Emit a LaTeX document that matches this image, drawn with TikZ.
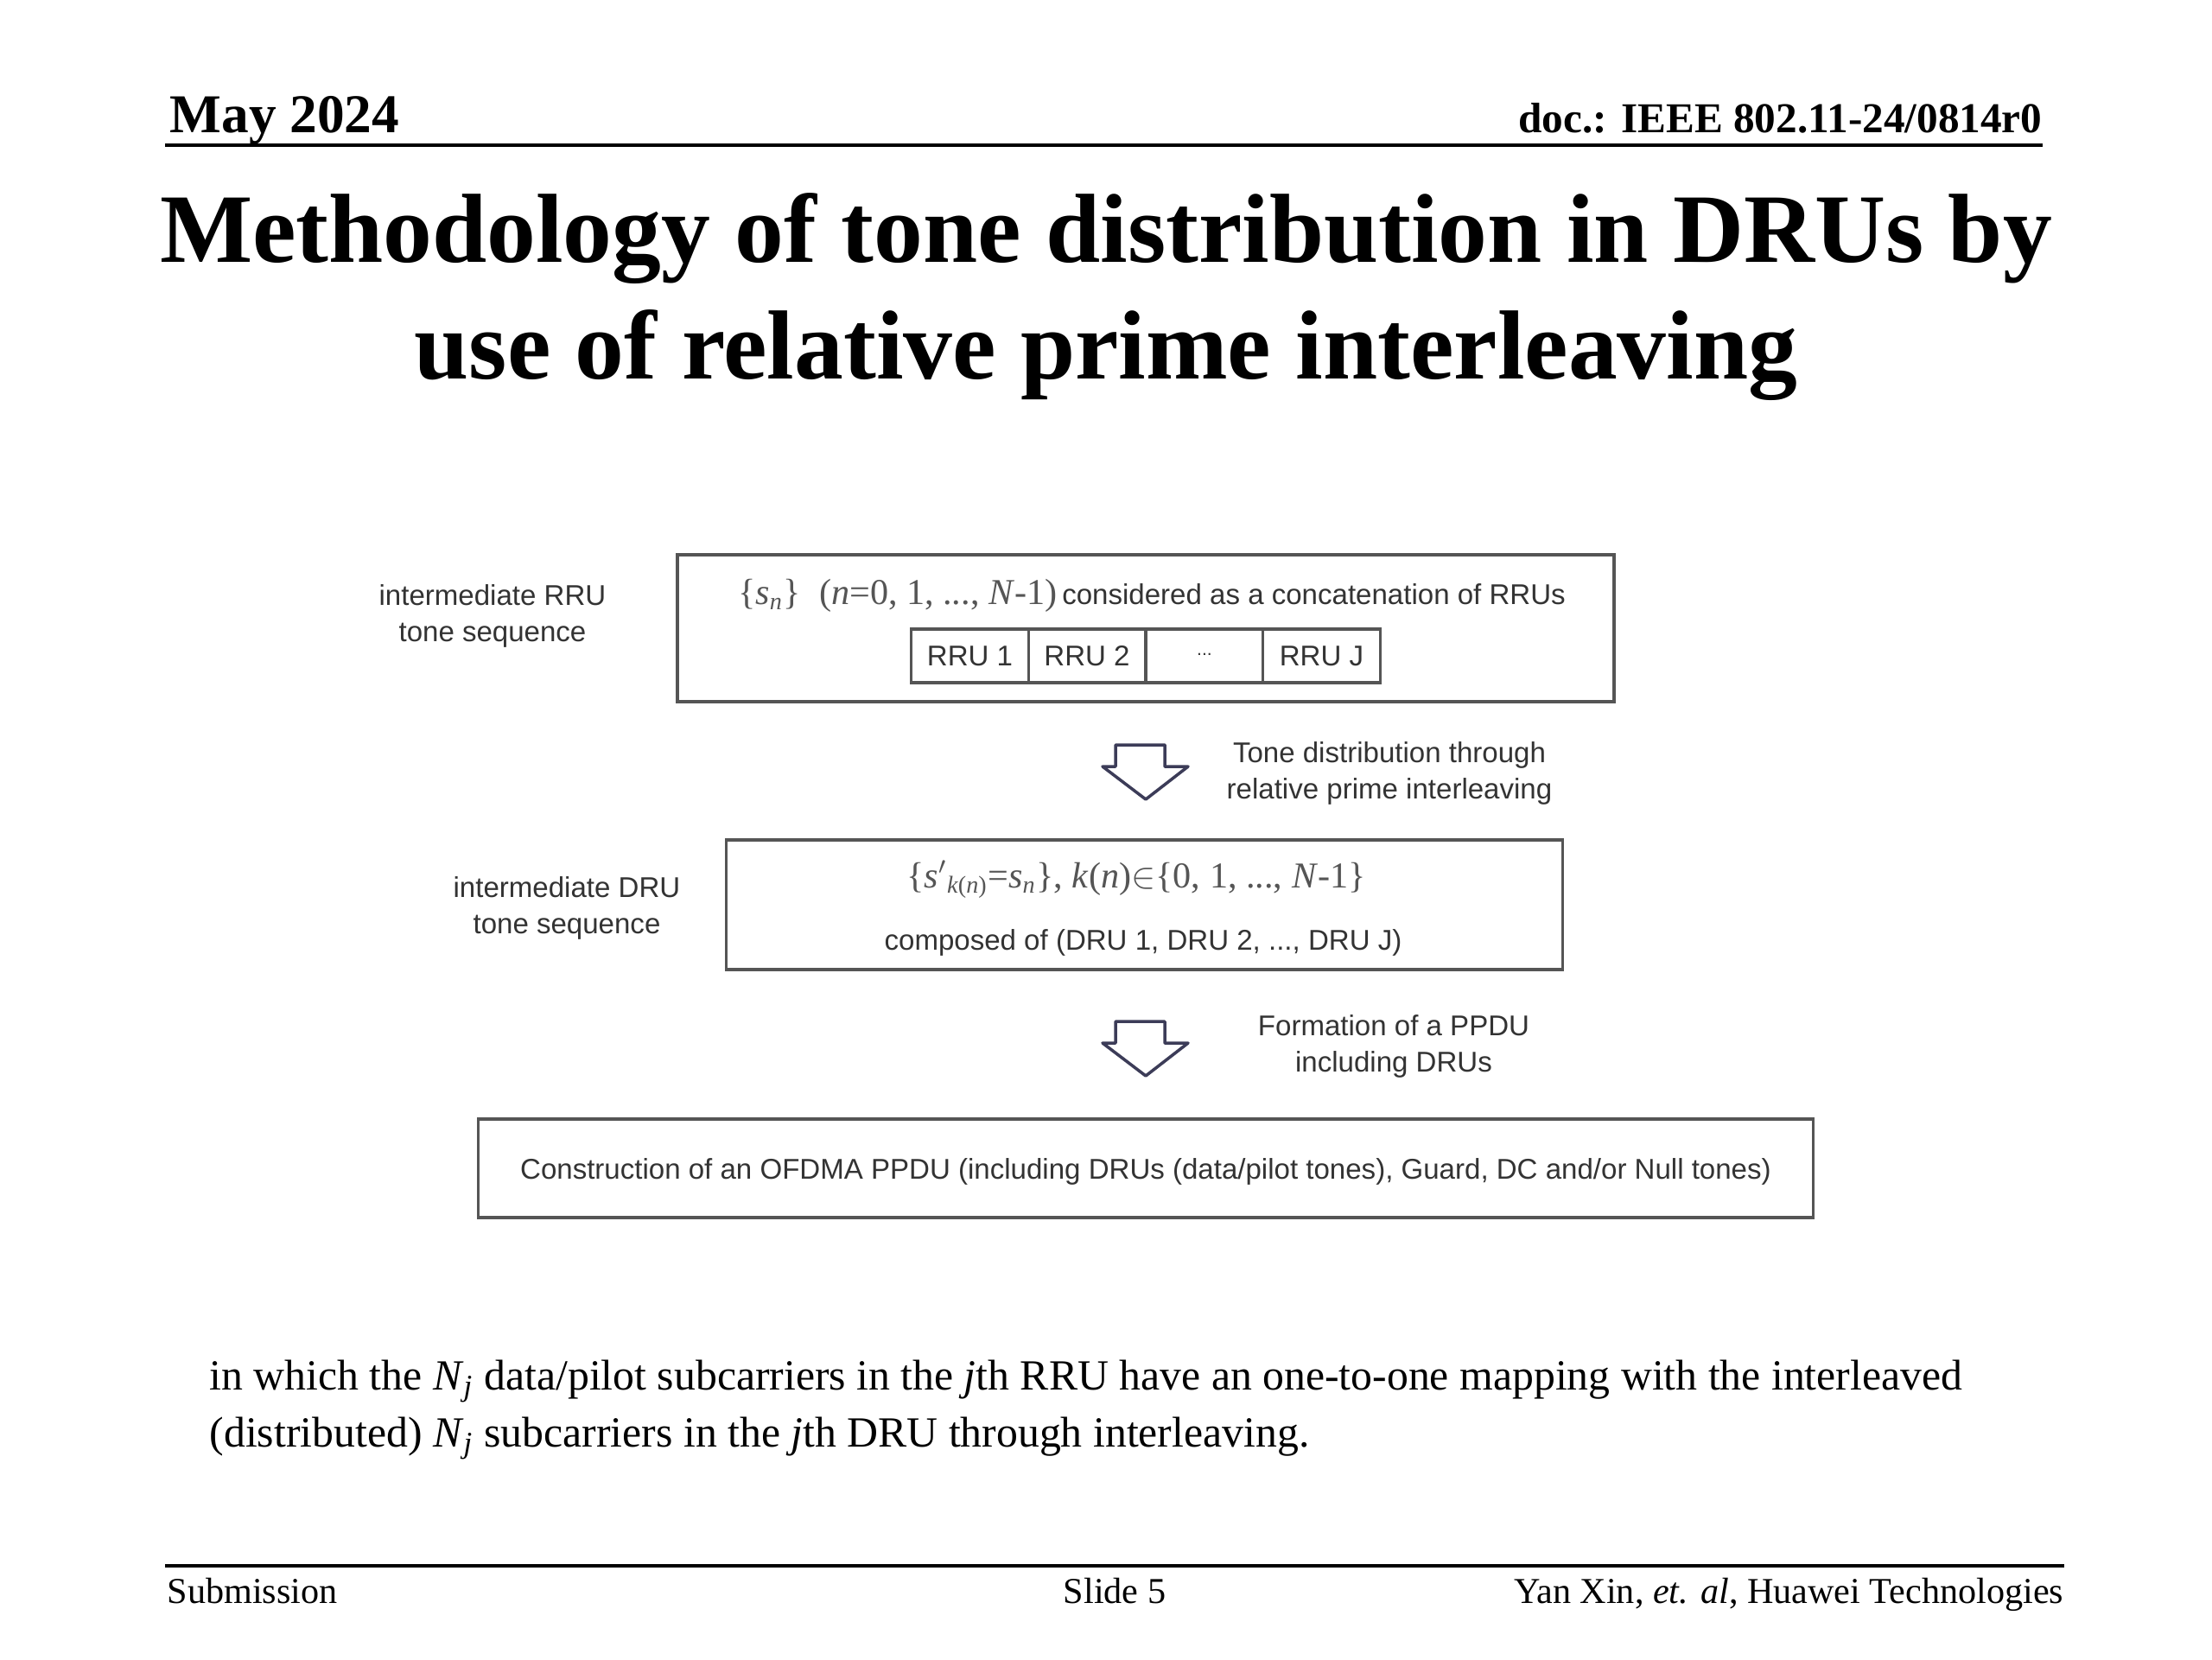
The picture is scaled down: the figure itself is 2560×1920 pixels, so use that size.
\documentclass[tikz,border=0pt]{standalone}
\usepackage{fontspec}
\setmainfont{Liberation Serif}
\newfontfamily\arialf{Liberation Sans}
\newfontfamily\serifm{Liberation Serif}
\definecolor{dtext}{HTML}{333333}
\definecolor{ftext}{HTML}{555555}
\definecolor{bord}{HTML}{555555}
\definecolor{arrowc}{HTML}{3C3C58}
\tikzset{
  dtxt/.style={font=\arialf\fontsize{9.4}{12}\selectfont, text=dtext, align=center, inner sep=0},
  ftxt/.style={font=\serifm\fontsize{12}{14}\selectfont, text=ftext, inner sep=0},
  boxn/.style={draw=bord, line width=1pt, inner sep=0},
  rrun/.style={draw=bord, line width=0.9pt, minimum width=1.355cm, minimum height=0.62cm, inner sep=0, font=\arialf\fontsize{9.4}{12}\selectfont, text=dtext},
  downarr/.style={draw=arrowc, line width=1pt, fill=white, line join=round},
  hline/.style={line width=1.3pt},
  ftr/.style={font=\fontsize{12}{14}\selectfont, inner sep=0},
  bodyt/.style={font=\fontsize{14.15}{17}\selectfont, inner sep=0, anchor=base west}
}
\begin{document}
\begin{tikzpicture}[x=0.01cm,y=-0.01cm]
\useasboundingbox[fill=white] (0,0) rectangle (2560,1920);
% header
\node[anchor=base west, inner sep=0, font=\bfseries\fontsize{18}{22}\selectfont] (date) at (196,153) {May 2024};
\node[anchor=base east, inner sep=0, font=\bfseries\fontsize{14}{17}\selectfont] (doc) at (2364,153) {doc.: IEEE 802.11-24/0814r0};
\coordinate (hl) at (191,168);
\coordinate (hr) at (2364,168);
\draw[hline] (hl) -- (hr);
% title
\node[anchor=base, inner sep=0, font=\bfseries\fontsize{32.3}{39}\selectfont] (t1) at (1280,303) {Methodology of tone distribution in DRUs by};
\node[anchor=base, inner sep=0, font=\bfseries\fontsize{32.3}{39}\selectfont] (t2) at (1280,438) {use of relative prime interleaving};
% box 1
\node[boxn, minimum width=10.83cm, minimum height=1.70cm] (box1) at (1326,727) {};
\node[inner sep=0, anchor=base] (b1t) at (1333,699) {{\serifm\fontsize{12}{14}\selectfont\color{ftext}\{\textit{s}\textsubscript{\textit{n}}\}\ \ (\textit{n}=0, 1, ..., \textit{N}-1)}\,{\arialf\fontsize{9.4}{12}\selectfont\color{dtext}considered as a concatenation of RRUs}};
\node[rrun] (r1) at (1122.5,759) {RRU 1};
\node[rrun] (r2) at (1258,759) {RRU 2};
\node[rrun] (r3) at (1394,759) {\raisebox{0.12em}{\fontsize{6}{6}\selectfont ...}};
\node[rrun] (r4) at (1529.5,759) {RRU J};
\node[dtxt] (l1) at (570,713) {intermediate RRU\\tone sequence};
% arrow 1
\draw[downarr] (1291,862) -- (1348,862) -- (1348,887) -- (1375,887) -- (1326,925) -- (1276,887) -- (1291,887) -- cycle;
\node[dtxt] (a1t) at (1608,895) {Tone distribution through\\relative prime interleaving};
% box 2
\node[boxn, minimum width=9.67cm, minimum height=1.50cm] (box2) at (1324.5,1047) {};
\node[ftxt, anchor=base] (b2f) at (1315,1027) {\{\textit{s}$'$\textsubscript{\textit{k}(\textit{n})}=\textit{s}\textsubscript{\textit{n}}\}, \textit{k}(\textit{n})$\in$\{0, 1, ..., \textit{N}-1\}};
\node[dtxt] (b2t) at (1323,1091) {composed of (DRU 1, DRU 2, ..., DRU J)};
\node[dtxt] (l2) at (656,1051) {intermediate DRU\\tone sequence};
% arrow 2
\draw[downarr] (1291,1182) -- (1348,1182) -- (1348,1207) -- (1375,1207) -- (1326,1245) -- (1276,1207) -- (1291,1207) -- cycle;
\node[dtxt] (a2t) at (1613,1211) {Formation of a PPDU\\including DRUs};
% box 3
\node[boxn, minimum width=15.44cm, minimum height=1.14cm] (box3) at (1326,1352) {};
\node[dtxt] (b3t) at (1326,1356) {Construction of an OFDMA PPDU (including DRUs (data/pilot tones), Guard, DC and/or Null tones)};
% body
\node[bodyt] (p1) at (242,1608) {in which the \textit{N}\textsubscript{\textit{j}} data/pilot subcarriers in the \textit{j}th RRU have an one-to-one mapping with the interleaved};
\node[bodyt] (p2) at (242,1674) {(distributed) \textit{N}\textsubscript{\textit{j}} subcarriers in the \textit{j}th DRU through interleaving.};
% footer
\coordinate (fl) at (191,1812);
\coordinate (fr) at (2389,1812);
\draw[hline] (fl) -- (fr);
\node[ftr, anchor=base west] (sub) at (193,1855) {Submission};
\node[ftr, anchor=base] (sl) at (1290,1855) {Slide 5};
\node[ftr, anchor=base east] (auth) at (2389,1855) {Yan Xin, \textit{et. al}, Huawei Technologies};
\end{tikzpicture}
\end{document}
